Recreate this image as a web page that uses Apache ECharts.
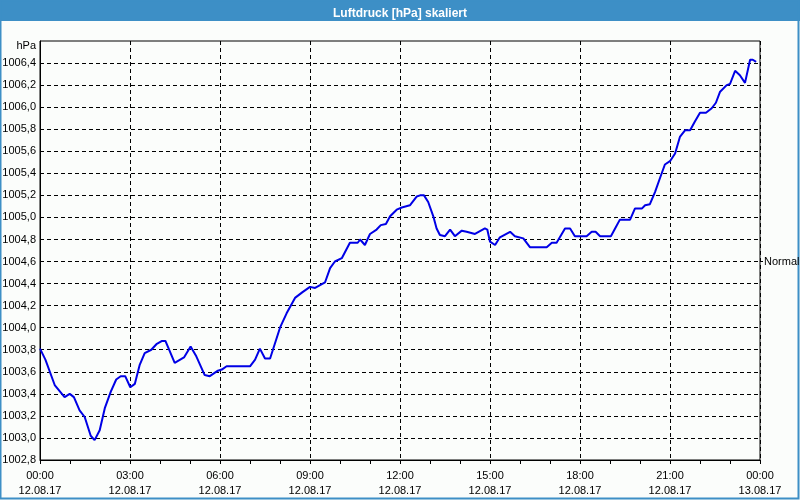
<!DOCTYPE html>
<html>
<head>
<meta charset="utf-8">
<script src="https://cdn.jsdelivr.net/npm/echarts@6/dist/echarts.min.js"></script>
<style>
html,body{margin:0;padding:0;background:#fbfdfb;}
#c{width:800px;height:500px;}
</style>
</head>
<body>
<div id="c"></div>
<script>
// time in hours since 12.08.17 00:00
const hours = [0,0.18,0.49,0.82,0.99,1.13,1.32,1.49,1.69,1.82,1.99,2.16,2.36,2.54,2.69,2.84,3.01,3.16,3.32,3.49,3.71,3.88,4.07,4.18,4.49,4.8,5.02,5.21,5.49,5.66,5.93,6.06,6.22,7.0,7.17,7.33,7.5,7.67,8.0,8.22,8.5,8.74,9.0,9.17,9.5,9.67,9.83,10.06,10.33,10.59,10.67,10.83,11.0,11.22,11.36,11.53,11.67,11.89,12.06,12.33,12.56,12.67,12.8,12.94,13.11,13.22,13.33,13.5,13.67,13.83,14.06,14.22,14.5,14.83,14.91,15.0,15.17,15.33,15.67,15.83,16.11,16.33,16.89,17.06,17.22,17.5,17.67,17.83,18.06,18.22,18.39,18.52,18.67,19.03,19.17,19.33,19.67,19.83,20.06,20.17,20.33,20.5,20.67,20.83,21.0,21.17,21.33,21.5,21.67,21.83,22.0,22.2,22.39,22.53,22.67,22.89,23.0,23.17,23.33,23.5,23.67,23.76,23.87];
const pressure = [1003.81,1003.71,1003.48,1003.37,1003.40,1003.37,1003.25,1003.19,1003.02,1002.98,1003.07,1003.27,1003.42,1003.53,1003.56,1003.56,1003.46,1003.49,1003.66,1003.77,1003.80,1003.85,1003.88,1003.88,1003.68,1003.73,1003.83,1003.74,1003.57,1003.56,1003.61,1003.62,1003.65,1003.65,1003.71,1003.81,1003.72,1003.72,1004.00,1004.13,1004.27,1004.32,1004.37,1004.36,1004.41,1004.54,1004.60,1004.63,1004.77,1004.77,1004.80,1004.75,1004.85,1004.89,1004.93,1004.94,1005.01,1005.07,1005.09,1005.11,1005.19,1005.20,1005.20,1005.14,1005.01,1004.90,1004.84,1004.83,1004.89,1004.83,1004.88,1004.87,1004.85,1004.90,1004.89,1004.78,1004.75,1004.82,1004.87,1004.83,1004.81,1004.73,1004.73,1004.77,1004.77,1004.90,1004.90,1004.83,1004.83,1004.83,1004.87,1004.87,1004.83,1004.83,1004.90,1004.98,1004.98,1005.08,1005.08,1005.11,1005.12,1005.23,1005.36,1005.48,1005.51,1005.58,1005.73,1005.79,1005.79,1005.87,1005.95,1005.95,1005.99,1006.04,1006.14,1006.20,1006.21,1006.33,1006.29,1006.22,1006.43,1006.43,1006.41];
const titleText = 'Luftdruck [hPa] skaliert';
const unitText = 'hPa';
const normalLabel = 'Normal';
const normalValue = 1004.6;
const startDate = '12.08.17';
const endDate = '13.08.17';

const data = hours.map((h, i) => [h, pressure[i]]);
const font = '"Liberation Sans", Arial, sans-serif';

const chart = echarts.init(document.getElementById('c'), null, {renderer: 'canvas'});
chart.setOption({
  backgroundColor: '#fbfdfb',
  animation: false,
  title: {
    text: titleText, left: 'center', top: 3,
    textStyle: {color: '#fff', fontSize: 12, fontWeight: 'bold', fontFamily: font}
  },
  graphic: [
    {type: 'rect', z: -10, shape: {x: 0, y: 0, width: 800, height: 21}, style: {fill: '#3d8fc6'}},
    {type: 'rect', z: -10, shape: {x: 0.5, y: 0.5, width: 798, height: 498}, style: {fill: null, stroke: '#3d8fc6', lineWidth: 2}}
  ],
  grid: {left: 40, right: 40, top: 41, bottom: 40, outerBoundsMode: 'none', containLabel: false,
         show: true, borderColor: '#000', borderWidth: 1, backgroundColor: 'transparent'},
  xAxis: {
    type: 'value', min: 0, max: 24, interval: 3,
    axisLine: {show: true, lineStyle: {color: '#000'}},
    axisTick: {show: true, length: 4, lineStyle: {color: '#000'}},
    minorTick: {show: true, splitNumber: 3, length: 4, lineStyle: {color: '#000'}},
    splitLine: {show: true, lineStyle: {color: '#000', type: [4, 3]}},
    axisLabel: {
      color: '#000', fontSize: 11, fontFamily: font, margin: 8, lineHeight: 15,
      formatter: v => {
        const h = v % 24;
        return (h < 10 ? '0' : '') + h + ':00\n' + (v >= 24 ? endDate : startDate);
      }
    }
  },
  yAxis: [{
    type: 'value', min: 1002.8, max: 1006.6, interval: 0.2,
    axisLine: {show: true, lineStyle: {color: '#000'}},
    axisTick: {show: false},
    splitLine: {show: true, showMaxLine: false, lineStyle: {color: '#000', type: [4, 3]}},
    axisLabel: {
      color: '#000', fontSize: 11, fontFamily: font, margin: 4,
      formatter: v => v > 1006.55 ? '{u|' + unitText + '}' : v.toFixed(1).replace('.', ','),
      rich: {u: {fontSize: 11, fontFamily: font, color: '#000', padding: [9, 0, 0, 0]}}
    }
  }, {
    type: 'value', position: 'right', min: 1002.8, max: 1006.6,
    axisLine: {show: false},
    splitLine: {show: false},
    axisTick: {show: true, length: 3, customValues: [normalValue], lineStyle: {color: '#000'}},
    axisLabel: {show: true, customValues: [normalValue], color: '#000', fontSize: 11, fontFamily: font, margin: 4, formatter: () => normalLabel}
  }],
  series: [{
    type: 'line', data: data, showSymbol: false, symbol: 'none',
    lineStyle: {color: '#0000e6', width: 2}, smooth: false
  }]
});
</script>
</body>
</html>
